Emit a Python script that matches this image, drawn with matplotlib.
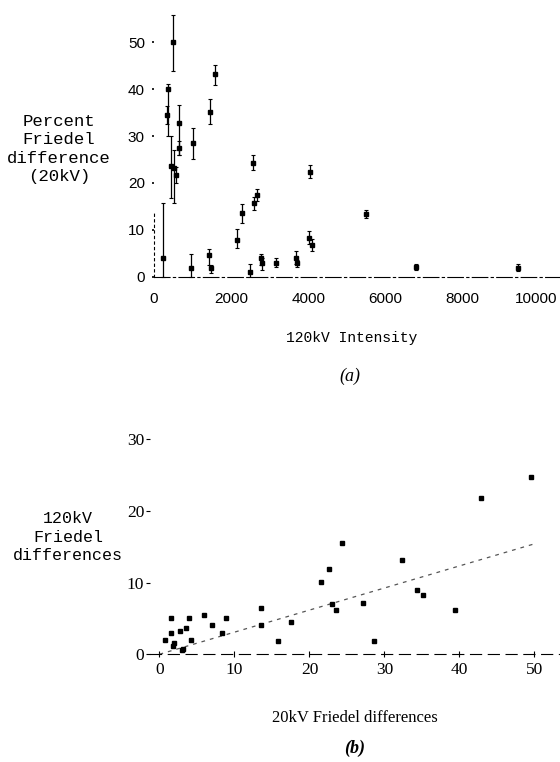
import numpy as np
import matplotlib
matplotlib.use("Agg")
import matplotlib.pyplot as plt
from matplotlib.transforms import ScaledTranslation

# (a) 120kV intensity vs percent Friedel difference (20kV), with error bars
int_120kv = [241, 329, 370, 433, 500, 518, 570, 640, 655, 951, 1003, 1428, 1479, 1463,
             1588, 2158, 2272, 2487, 2573, 2598, 2661, 2772, 2806, 3161, 3679, 3697,
             4041, 4023, 4085, 5492, 6780, 9422]
pct_diff = [3.9, 34.5, 40.0, 23.6, 50.0, 23.1, 21.7, 27.5, 32.7, 1.8, 28.6, 4.6, 1.8, 35.2,
            43.2, 7.8, 13.5, 0.9, 24.3, 15.8, 17.4, 3.9, 2.9, 3.0, 3.9, 2.9,
            22.4, 8.2, 6.8, 13.4, 2.0, 1.9]
pct_lo = [0.0, 32.5, 30.0, 16.7, 43.9, 15.8, 20.0, 26.0, 26.0, 0.0, 25.0, 2.5, 0.8, 32.5,
          40.9, 6.2, 11.5, 0.0, 22.7, 14.2, 16.2, 2.5, 1.4, 2.0, 2.8, 2.0,
          21.0, 7.0, 5.5, 12.6, 1.5, 1.2]
pct_hi = [15.8, 36.5, 41.0, 29.9, 55.8, 27.0, 23.5, 29.0, 36.6, 4.8, 31.8, 5.8, 2.4, 37.9,
          45.1, 10.2, 15.4, 2.6, 26.0, 17.0, 18.8, 4.8, 3.9, 3.9, 5.5, 3.5,
          23.8, 9.8, 8.0, 14.3, 2.6, 2.8]

# (b) 20kV vs 120kV Friedel differences
diff_20kv = [0.7, 1.6, 1.5, 2.0, 1.8, 2.7, 3.0, 3.2, 3.6, 3.9, 4.2, 5.9, 7.0, 8.4, 8.9,
             13.5, 13.5, 15.8, 17.5, 21.6, 22.6, 24.4, 23.0, 23.5, 27.2, 28.6,
             32.3, 34.4, 35.2, 39.4, 42.9, 49.5]
diff_120kv = [2.0, 5.0, 3.0, 1.5, 1.2, 3.3, 0.6, 0.7, 3.7, 5.0, 2.0, 5.5, 4.1, 2.9, 5.0,
              4.1, 6.5, 1.8, 4.5, 10.1, 11.9, 15.5, 7.0, 6.2, 7.1, 1.8,
              13.2, 9.0, 8.3, 6.2, 21.8, 24.7]
fit_x = [0, 50]
fit_y = [0, 15.4]

W, H = 560, 762
fig = plt.figure(figsize=(W / 100, H / 100), dpi=100)
fig.patch.set_facecolor("white")

def fx(px):
    return px / W

def fy(py):
    return 1 - py / H

mono = "Liberation Mono"
serif = "Liberation Serif"
sans = "Liberation Sans"

# ---- panel (a)
ax1 = fig.add_axes([0.2680, 0.6332, 0.7320, 0.3575])
pct = np.array(pct_diff)
yerr = [pct - np.array(pct_lo), np.array(pct_hi) - pct]
ax1.errorbar(int_120kv, pct_diff, yerr=yerr, fmt="s", ms=3, color="black",
             ecolor="black", elinewidth=0.9, capsize=1.6, capthick=0.8)
ax1.set_xlim(-100, 10517)
ax1.set_ylim(-0.6, 57.5)
ax1.set_xticks(range(0, 10001, 2000))
ax1.set_yticks(range(0, 51, 10))
for s in ["top", "right"]:
    ax1.spines[s].set_visible(False)
ax1.spines["bottom"].set_position(("data", 0))
ax1.spines["bottom"].set_bounds(0, 10517)
ax1.spines["bottom"].set_linewidth(0.8)
ax1.spines["bottom"].set_linestyle((0, (14, 3, 2, 3)))
ax1.spines["left"].set_position(("data", 0))
ax1.spines["left"].set_bounds(0, 14)
ax1.spines["left"].set_linewidth(0.8)
ax1.spines["left"].set_linestyle((0, (2, 3)))
ax1.tick_params(axis="y", direction="out", length=1.5, width=1.2, pad=5, labelsize=11)
ax1.tick_params(axis="x", direction="in", length=0, pad=11, labelsize=11)
for lab in ax1.get_xticklabels() + ax1.get_yticklabels():
    lab.set_family(sans)
last = ax1.get_xticklabels()[-1]
last.set_transform(last.get_transform() + ScaledTranslation(-4 / 100, 0, fig.dpi_scale_trans))
ax1.set_facecolor("none")

fig.text(fx(59), fy(149), "Percent\nFriedel\ndifference\n(20kV)", family=mono,
         fontsize=12.5, ha="center", va="center", linespacing=1.3)
fig.text(fx(352), fy(338), "120kV Intensity", family=mono, fontsize=10.5,
         ha="center", va="center")
fig.text(fx(350), fy(376), "(a)", family=serif, style="italic", fontsize=13,
         ha="center", va="center")

# ---- panel (b)
ax2 = fig.add_axes([0.2674, 0.1339, 0.7326, 0.3039])
ax2.plot(fit_x, fit_y, color="#555555", lw=0.9, ls=(0, (3, 4)))
ax2.plot(diff_20kv, diff_120kv, "s", ms=3, color="black")
ax2.set_xlim(-1.3, 53.4)
ax2.set_ylim(-0.8, 31.5)
ax2.set_xticks(range(0, 51, 10))
ax2.set_yticks(range(0, 31, 10))
for s in ["top", "right", "left"]:
    ax2.spines[s].set_visible(False)
ax2.spines["bottom"].set_position(("data", 0))
ax2.spines["bottom"].set_linewidth(0.8)
ax2.spines["bottom"].set_linestyle((0, (10, 6)))
ax2.tick_params(axis="y", direction="out", length=3, width=0.8, pad=1, labelsize=12.5)
ax2.tick_params(axis="x", direction="inout", length=5, width=0.8, pad=3, labelsize=12.5)
for lab in ax2.get_xticklabels() + ax2.get_yticklabels():
    lab.set_family(serif)
ax2.set_facecolor("none")

fig.text(fx(68), fy(537), "120kV\nFriedel\ndifferences", family=mono, fontsize=12,
         ha="center", va="center", linespacing=1.3)
fig.text(fx(355), fy(718), "20kV Friedel differences", family=serif, fontsize=12,
         ha="center", va="center")
fig.text(fx(355), fy(748), "(b)", family=serif, style="italic", weight="bold",
         fontsize=13, ha="center", va="center")

fig.savefig("out.png", dpi=100, facecolor="white")
